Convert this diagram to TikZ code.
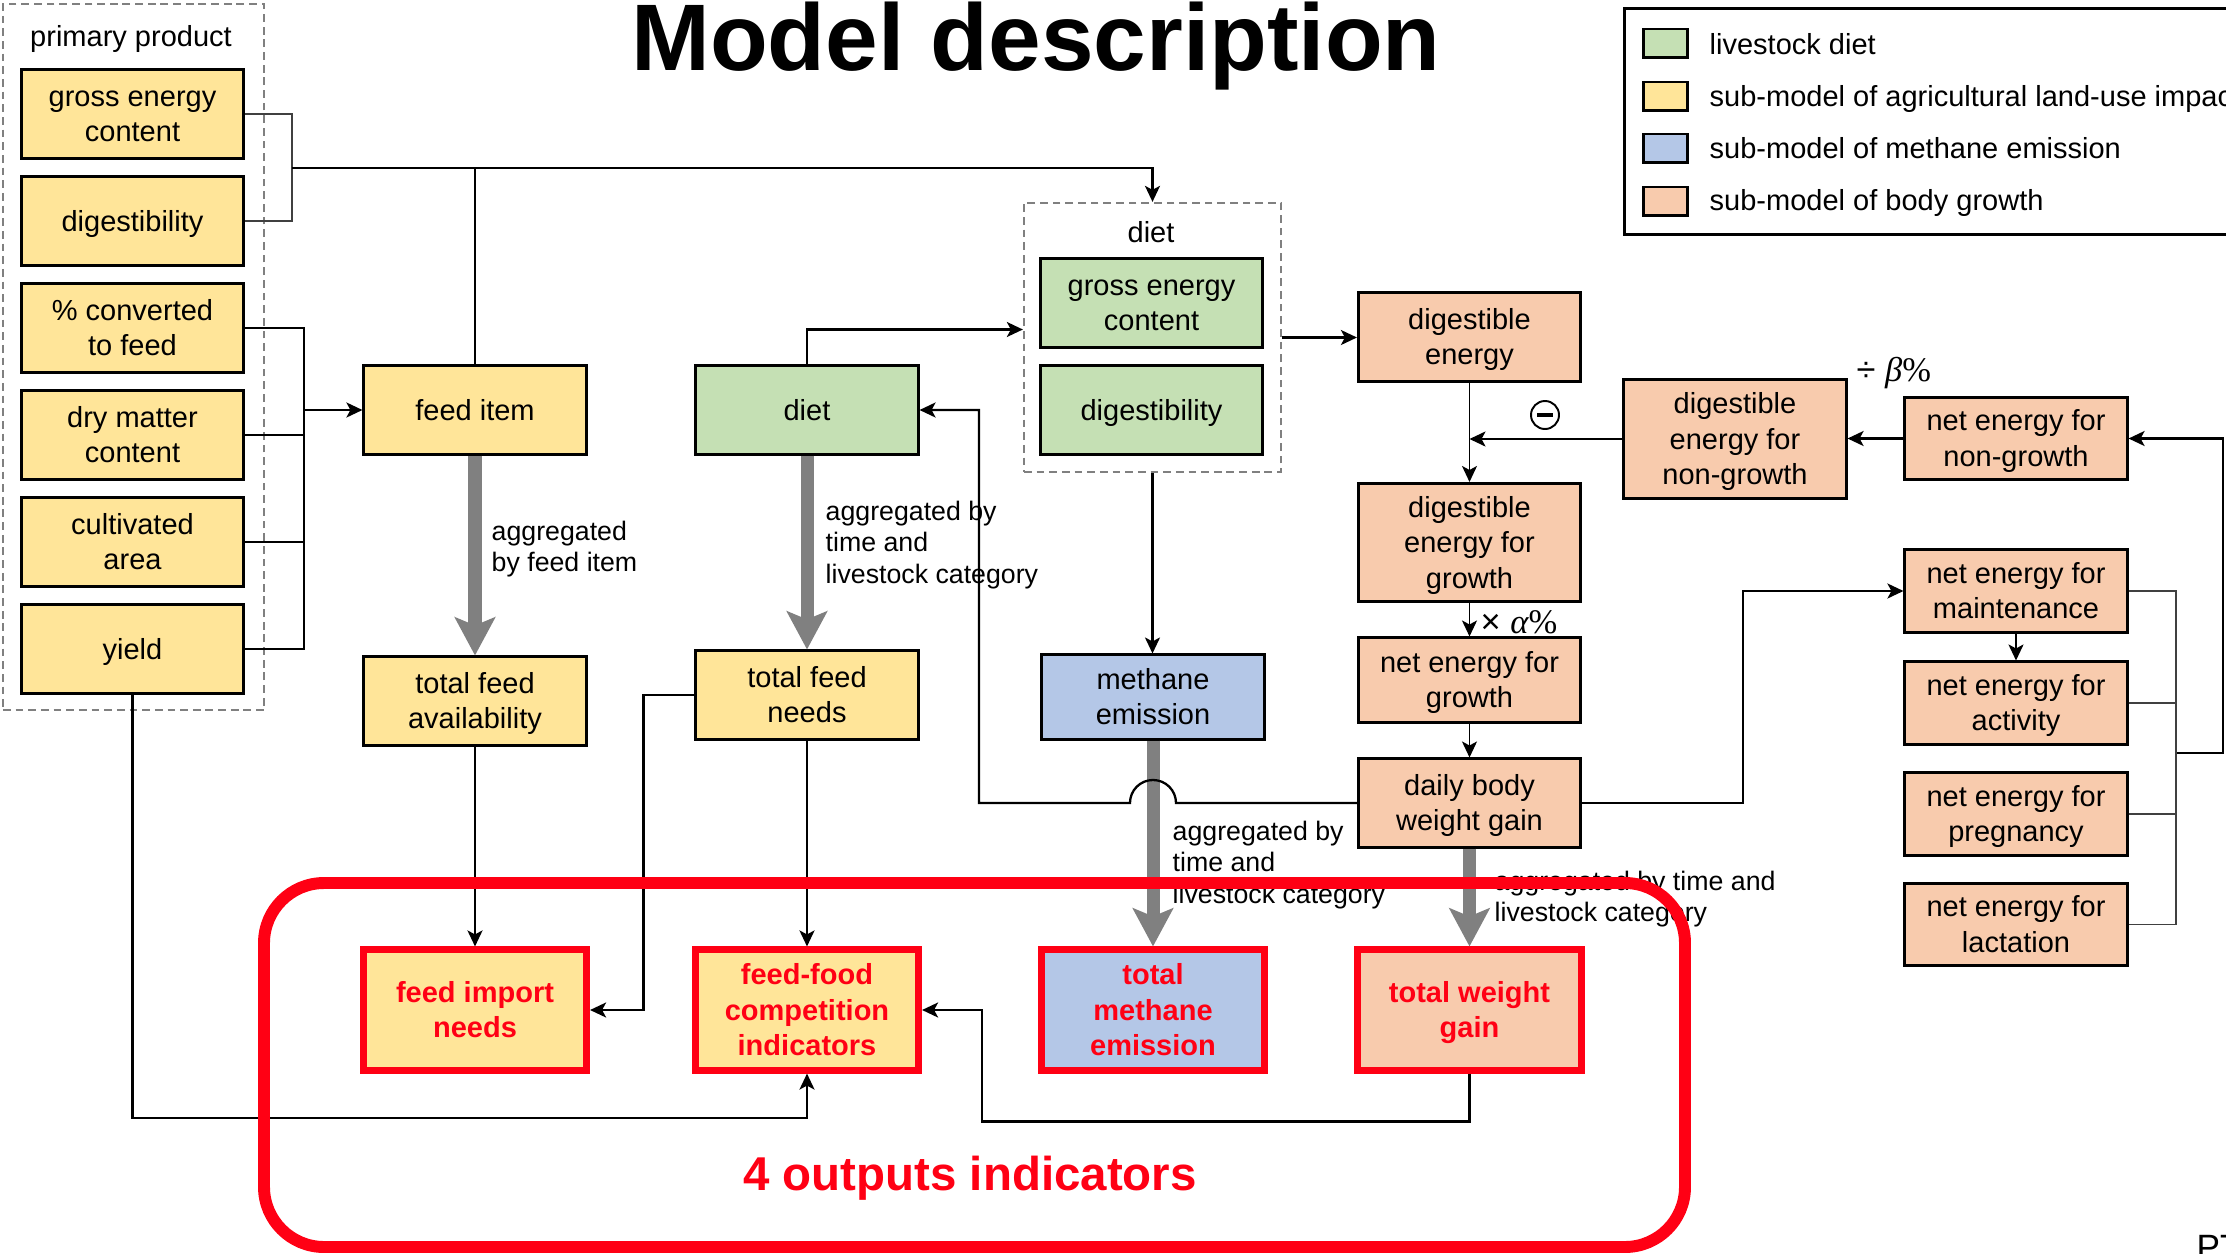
\documentclass[tikz,border=0pt]{standalone}
\usepackage{fontspec}
\setmainfont{Liberation Sans}
\newfontfamily\serifface{Liberation Serif}
\usetikzlibrary{arrows.meta,calc}
\definecolor{cY}{RGB}{255,229,153}
\definecolor{cG}{RGB}{197,224,180}
\definecolor{cB}{RGB}{180,199,231}
\definecolor{cO}{RGB}{248,203,173}
\definecolor{cR}{RGB}{255,0,20}
\definecolor{cAgg}{RGB}{128,128,128}
\definecolor{cDash}{RGB}{128,128,128}
\newcommand\myBody{\fontsize{8.25}{10.1}\selectfont}
\newcommand\myLbl{\fontsize{7.6}{8.9}\selectfont}
\newcommand\st{\rule[-0.212em]{0pt}{1.117em}}
\tikzset{
  box/.style={draw=black, line width=0.85pt, minimum width=2.22cm, minimum height=0.88cm, inner sep=0pt, align=center, font=\myBody},
  ybox/.style={box, fill=cY},
  gbox/.style={box, fill=cG},
  bbox/.style={box, fill=cB},
  obox/.style={box, fill=cO},
  outbox/.style={draw=cR, line width=2pt, minimum width=2.23cm, minimum height=1.2cm, inner sep=0pt, align=center, font=\myBody\bfseries, text=cR},
  dbox/.style={draw=cDash, dash pattern=on 2.2pt off 1.4pt, line width=0.6pt, inner sep=0pt},
  conn/.style={line width=0.65pt, black},
  arr/.style={conn, -{Stealth[length=0.16cm, width=0.15cm, inset=0.04cm]}},
  arrthin/.style={arr, line width=0.45pt},
  brk/.style={line width=0.4pt, black!75},
  agg/.style={draw=cAgg, line width=3.7pt, -{Stealth[length=0.38cm, width=0.4cm, inset=0.08cm]}},
  lbl/.style={align=left, font=\myLbl, inner sep=0pt, anchor=west},
  plain/.style={inner sep=0pt, font=\myBody}
}
\begin{document}
\begin{tikzpicture}[x=0.01cm,y=-0.01cm]
\useasboundingbox (0,0) rectangle (2226,1254);
\fill[white] (0,0) rectangle (2226,1254);
\begin{scope}
\clip (0,0) rectangle (2226,1254);

% title
\node[plain, font=\fontsize{26.9}{30}\selectfont\bfseries, anchor=base] (title) at (1036,70) {Model description};

% legend
\node[draw, line width=0.85pt, minimum width=6.4cm, minimum height=2.26cm, inner sep=0pt, anchor=north west] (leg) at (1623,7) {};
\node[box, fill=cG, minimum width=0.44cm, minimum height=0.28cm] (lg1) at (1665.5,43) {};
\node[box, fill=cY, minimum width=0.44cm, minimum height=0.28cm] (lg2) at (1665.5,96) {};
\node[box, fill=cB, minimum width=0.44cm, minimum height=0.28cm] (lg3) at (1665.5,148) {};
\node[box, fill=cO, minimum width=0.44cm, minimum height=0.28cm] (lg4) at (1665.5,201) {};
\node[plain, anchor=base west] (lt1) at (1709,54) {livestock diet};
\node[plain, anchor=base west] (lt2) at (1709,106) {sub-model of agricultural land-use impact};
\node[plain, anchor=base west] (lt3) at (1709,158) {sub-model of methane emission};
\node[plain, anchor=base west] (lt4) at (1709,210) {sub-model of body growth};

% primary product group
\node[dbox, minimum width=2.61cm, minimum height=7.06cm] (pp) at (133.5,357) {};
\node[plain, anchor=base] (pplab) at (131,46) {primary product};
\node[ybox] (ge1) at (132.5,114) {\st gross energy\\content\st};
\node[ybox] (dg1) at (132.5,221) {\st digestibility\st};
\node[ybox] (cv) at (132.5,328) {\st\% converted\\to feed\st};
\node[ybox] (dm) at (132.5,435) {\st dry matter\\content\st};
\node[ybox] (ca) at (132.5,542) {\st cultivated\\area\st};
\node[ybox] (yl) at (132.5,649) {\st yield\st};

% middle column
\node[ybox] (fi) at (475,410) {\st feed item\st};
\node[ybox] (tfa) at (475,701) {\st total feed\\availability\st};
\node[gbox] (diet) at (807,410) {\st diet\st};
\node[ybox] (tfn) at (807,695) {\st total feed\\needs\st};

% diet group
\node[dbox, minimum width=2.57cm, minimum height=2.69cm] (db) at (1152.5,337.5) {};
\node[plain, anchor=base] (dblab) at (1151,242) {diet};
\node[gbox] (ge2) at (1151.5,303) {\st gross energy\\content\st};
\node[gbox] (dg2) at (1151.5,410) {\st digestibility\st};
\node[bbox, minimum height=0.84cm] (me) at (1153,697) {\st methane\\emission\st};

% body growth
\node[obox] (de) at (1469.5,337) {\st digestible\\energy\st};
\node[obox, minimum height=1.18cm] (deg) at (1469.5,542.5) {\st digestible\\energy for\\growth\st};
\node[obox, minimum height=0.84cm] (neg) at (1469.5,680) {\st net energy for\\growth\st};
\node[obox] (dbwg) at (1469.5,803) {\st daily body\\weight gain\st};
\node[obox, minimum height=1.18cm] (deng) at (1735,439) {\st digestible\\energy for\\non-growth\st};
\node[obox, minimum height=0.82cm] (neng) at (2016,438.5) {\st net energy for\\non-growth\st};
\node[obox, minimum height=0.82cm] (nem) at (2016,591) {\st net energy for\\maintenance\st};
\node[obox, minimum height=0.82cm] (nea) at (2016,703) {\st net energy for\\activity\st};
\node[obox, minimum height=0.82cm] (nep) at (2016,814) {\st net energy for\\pregnancy\st};
\node[obox, minimum height=0.82cm] (nel) at (2016,924.5) {\st net energy for\\lactation\st};

% outputs
\node[outbox, fill=cY] (fin) at (475,1010) {\st feed import\\needs\st};
\node[outbox, fill=cY] (ffc) at (807,1010) {\st feed-food\\competition\\indicators\st};
\node[outbox, fill=cB] (tme) at (1153,1010) {\st total\\methane\\emission\st};
\node[outbox, fill=cO] (twg) at (1469.5,1010) {\st total weight\\gain\st};

% small labels
\node[plain, anchor=west, font=\fontsize{9.8}{11}\selectfont] (alpha) at (1480,622) {× {\serifface\itshape α}{\serifface\%}};
\node[plain, anchor=west, font=\fontsize{9.8}{11}\selectfont] (beta) at (1856,373) {÷ {\serifface\itshape β}{\serifface\%}};
\node[circle, draw, line width=0.55pt, minimum size=0.28cm, inner sep=0pt] (minus) at (1545,415) {};
\draw[line width=1.3pt] ($(minus.center)+(-8,0)$) -- ($(minus.center)+(8,0)$);

% aggregation labels
\node[lbl] (l1) at (491,549) {aggregated\\by feed item};
\node[lbl] (l2) at (825,545) {aggregated by\\time and\\livestock category};
\node[lbl] (l3) at (1172,865) {aggregated by\\time and\\livestock category};
\node[lbl] (l4) at (1494,899) {aggregated by time and\\livestock category};

% connectors: primary product
\draw[brk] (ge1.east) -- ++(47,0) |- (dg1.east);
\coordinate (j1) at (292,168);
\draw[arr] (j1) -- (j1 -| db.north) -- (db.north);
\draw[conn] (fi.north) -- (fi.north |- j1);
\coordinate (j2) at (304,410);
\draw[conn] (cv.east) -- (cv.east -| j2) -- (yl.east -| j2) -- (yl.east);
\draw[conn] (dm.east) -- (dm.east -| j2);
\draw[conn] (ca.east) -- (ca.east -| j2);
\draw[arr] (j2) -- (fi.west);

% aggregation arrows
\draw[agg] (fi.south) -- (tfa.north);
\draw[agg] (diet.south) -- (tfn.north);
\draw[agg] (me.south) -- (tme.north);
\draw[agg] (dbwg.south) -- (twg.north);

% output connectors
\draw[arr] (tfa.south) -- (fin.north);
\draw[arr] (tfn.south) -- (ffc.north);
\coordinate (yb) at (132.5,1118);
\draw[arr] (yl.south) -- (yb) -| (ffc.south);
\draw[arr] (tfn.west) -- ++(-51,0) |- (fin.east);
\draw[arr] (twg.south) -- ++(0,48) -| ($(ffc.east)+(60,0)$) -- (ffc.east);

% diet connectors
\draw[arr] (diet.north) |- ($(db.west)+(0,-8)$);
\draw[arr] (db.east) -- (db.east -| de.west);
\draw[arr] (db.south) -- (db.south |- me.north);

% body growth connectors
\draw[arrthin] (de.south) -- (deg.north);
\draw[arr] (deng.west) -- (deng.west -| de.south);
\draw[arr] (neng.west) -- (deng.east |- neng.west);
\coordinate (j3) at (2176,753);
\coordinate (re) at (2223,753);
\draw[arr] (j3) -- (re) |- (neng.east);
\draw[brk] (nem.east) -- (nem.east -| j3) -- (nel.east -| j3) -- (nel.east);
\draw[brk] (nea.east) -- (nea.east -| j3);
\draw[brk] (nep.east) -- (nep.east -| j3);
\draw[arr] (nem.south) -- (nea.north);
\draw[arrthin] (deg.south) -- (neg.north);
\draw[arrthin] (neg.south) -- (dbwg.north);
\draw[arr] (dbwg.east) -- ++(161,0) |- (nem.west);
\coordinate (c979) at (979,410);
\draw[arr] (dbwg.west) -- ($(me.south |- dbwg.west)+(23,0)$) arc[start angle=0,end angle=180,radius=0.23cm] -- (c979 |- dbwg.west) -- (c979) -- (diet.east);

% outputs frame
\node[plain, anchor=base, text=cR, font=\fontsize{13.5}{16}\selectfont\bfseries] (outl) at (970,1190) {4 outputs indicators};
\draw[cR, line width=3.4pt, rounded corners=0.6cm] (264,883) rectangle (1685,1247);

\node[plain, anchor=base west, font=\fontsize{10}{12}\selectfont] (pt) at (2196,1259) {PT};
\end{scope}
\end{tikzpicture}
\end{document}
